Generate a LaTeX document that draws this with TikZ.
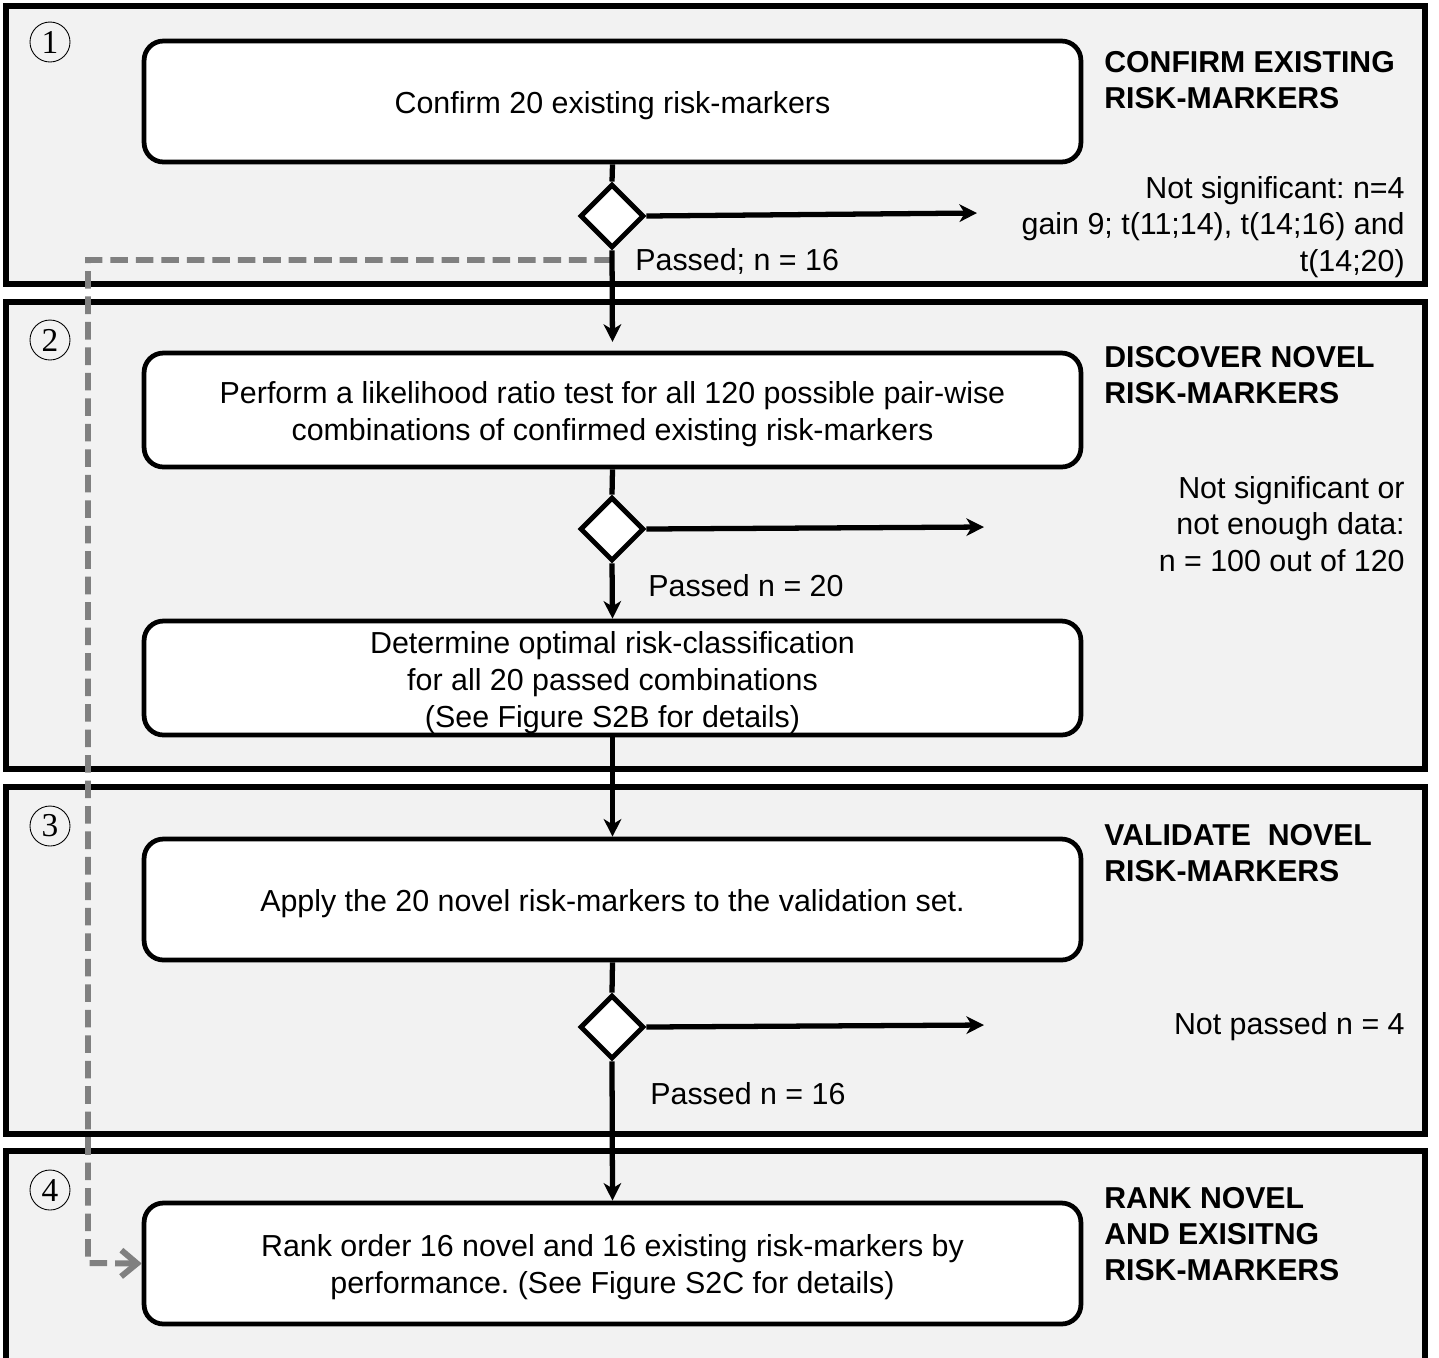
\documentclass[tikz,border=0pt]{standalone}
\usepackage{fontspec}
\setmainfont{Liberation Sans}
\newfontfamily\numfont{Liberation Serif}
\usetikzlibrary{arrows.meta,shapes.geometric}
\definecolor{panelgray}{HTML}{F2F2F2}
\definecolor{dashgray}{HTML}{808080}
\frenchspacing
\tikzset{
  panel/.style={draw=black, line width=2.9pt, fill=panelgray},
  stepbox/.style={draw=black, line width=2.7pt, fill=white, rounded corners=11pt, minimum width=18.74cm, inner sep=0pt},
  boxtext/.style={align=center, inner sep=0pt, font=\fontsize{17.3pt}{21pt}\selectfont},
  decision/.style={diamond, draw=black, line width=2.8pt, fill=white, minimum width=1.28cm, minimum height=1.28cm, inner sep=0pt},
  flow/.style={line width=3pt, -{Stealth[length=10pt,width=10pt,inset=3pt]}},
  flowline/.style={line width=3pt},
  stepnum/.style={circle, draw=black, line width=0.5pt, minimum size=0.8cm, inner sep=0pt, font=\numfont\fontsize{19pt}{19pt}\selectfont},
  title/.style={anchor=west, align=left, inner sep=0pt, font=\bfseries\fontsize{17.2pt}{20.5pt}\selectfont},
  note/.style={anchor=east, align=right, inner sep=0pt, font=\fontsize{17.3pt}{20.8pt}\selectfont},
  lbl/.style={anchor=west, inner sep=0pt, font=\fontsize{17.3pt}{21pt}\selectfont},
  feedback/.style={draw=dashgray, line width=3.4pt, dash pattern=on 10pt off 4.5pt, -{Straight Barb[length=9pt,width=15pt,line width=3.4pt]}}
}
\begin{document}
\begin{tikzpicture}[x=0.02cm, y=-0.02cm]
\useasboundingbox (0,0) rectangle (1439,1357);
% panels
\draw[panel] (6,6) rectangle (1425,284);
\draw[panel] (6,302) rectangle (1425,769);
\draw[panel] (6,787) rectangle (1425,1134);
\draw[panel] (6,1151) rectangle (1425,1362);
% step numbers
\node[stepnum] (n1) at (50,42) {1};
\node[stepnum] (n2) at (50,340) {2};
\node[stepnum] (n3) at (50,826) {3};
\node[stepnum] (n4) at (50,1190) {4};
% titles
\node[title] (t1) at (1104,80) {CONFIRM EXISTING\\RISK-MARKERS};
\node[title] (t2) at (1104,375) {DISCOVER NOVEL\\RISK-MARKERS};
\node[title] (t3) at (1104,853) {VALIDATE\ \ NOVEL\\RISK-MARKERS};
\node[title] (t4) at (1104,1234) {RANK NOVEL\\AND EXISITNG\\RISK-MARKERS};
% boxes
\node[stepbox, minimum height=2.42cm] (b1) at (612.5,101.5) {};
\node[stepbox, minimum height=2.28cm] (b2) at (612.5,410) {};
\node[stepbox, minimum height=2.28cm] (b3) at (612.5,678) {};
\node[stepbox, minimum height=2.42cm] (b4) at (612.5,899.5) {};
\node[stepbox, minimum height=2.42cm] (b5) at (612.5,1263.5) {};
\node[boxtext] (b1t) at ([yshift=-2.3pt]b1.center) {Confirm 20 existing risk-markers};
\node[boxtext] (b2t) at ([yshift=-2.3pt]b2.center) {Perform a likelihood ratio test for all 120 possible pair-wise\\combinations of confirmed existing risk-markers};
\node[boxtext] (b3t) at ([yshift=-2.6pt]b3.center) {Determine optimal risk-classification\\for all 20 passed combinations\\(See Figure S2B for details)};
\node[boxtext] (b4t) at ([yshift=-2.3pt]b4.center) {Apply the 20 novel risk-markers to the validation set.};
\node[boxtext] (b5t) at ([yshift=-2.3pt]b5.center) {Rank order 16 novel and 16 existing risk-markers by\\performance. (See Figure S2C for details)};
% decisions
\node[decision] (d1) at (612,216) {};
\node[decision] (d2) at (612,529) {};
\node[decision] (d3) at (612,1027) {};
% free ends
\coordinate (e1) at (977,213);
\coordinate (e2) at (984,527);
\coordinate (e3) at (984,1025);
\coordinate (ds) at (612,260);
\coordinate (dc1) at (88,260);
\coordinate (dc2) at (88,1263);
% feedback dashed
\draw[feedback] (ds) -- (dc1) -- (dc2) -- (b5.west);
% main flow
\draw[flowline] (b1.south) -- (d1.north);
\draw[flow, shorten >=5pt] (d1.south) -- (b2.north);
\draw[flowline] (b2.south) -- (d2.north);
\draw[flow] (d2.south) -- (b3.north);
\draw[flow] (b3.south) -- (b4.north);
\draw[flowline] (b4.south) -- (d3.north);
\draw[flow] (d3.south) -- (b5.north);
\draw[flow] (d1.east) -- (e1);
\draw[flow] (d2.east) -- (e2);
\draw[flow] (d3.east) -- (e3);
% labels
\node[lbl] (p1) at (635,261) {Passed; n = 16};
\node[lbl] (p2) at (648,586) {Passed n = 20};
\node[lbl] (p3) at (650,1094) {Passed n = 16};
\node[note] (r1) at (1405,227) {Not significant: n=4\\gain 9; t(11;14), t(14;16) and\\t(14;20)};
\node[note] (r2) at (1405,524) {Not significant or\\not enough data:\\n = 100 out of 120};
\node[note] (r3) at (1405,1027) {Not passed n = 4};
\end{tikzpicture}
\end{document}
